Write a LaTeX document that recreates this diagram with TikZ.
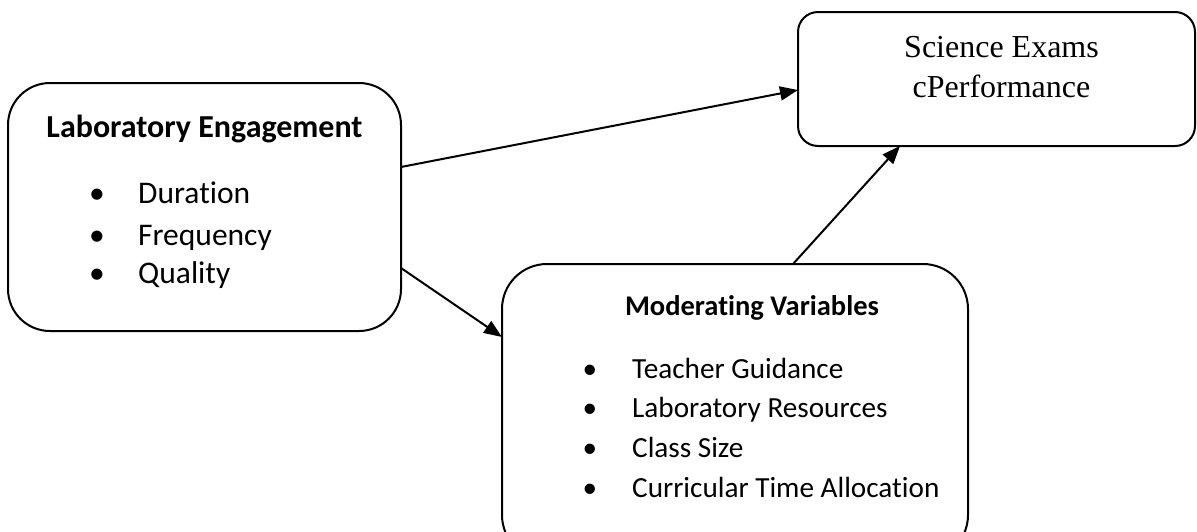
\documentclass[tikz,border=0pt]{standalone}
\usepackage{fontspec}
\setmainfont{Carlito}[Ligatures=NoCommon]
\newfontfamily\tnr{Liberation Serif}
\usetikzlibrary{arrows.meta}
\begin{document}
\begin{tikzpicture}[x=1pt,y=-1pt,
  box/.style={draw=black,line width=2pt,inner sep=0pt,outer sep=0pt},
  arr/.style={line width=2pt,-{Triangle[length=18pt,width=14pt]}},
  txtL/.style={anchor=base west,inner sep=0pt,font=\fontsize{31.5}{37}\selectfont},
  ttlL/.style={anchor=base,inner sep=0pt,font=\fontsize{32}{37}\selectfont\bfseries},
  bulL/.style={anchor=base,inner sep=0pt,font=\fontsize{31.5}{37}\selectfont},
  txtM/.style={anchor=base west,inner sep=0pt,font=\fontsize{29.2}{34}\selectfont},
  ttlM/.style={anchor=base,inner sep=0pt,font=\fontsize{28.5}{34}\selectfont\bfseries},
  bulM/.style={anchor=base,inner sep=0pt,font=\fontsize{29.2}{34}\selectfont},
  sci/.style={anchor=base,inner sep=0pt,font=\fontsize{32}{37}\selectfont\tnr}]
\useasboundingbox (0,0) rectangle (1197,531);
\clip (0,0) rectangle (1197,531);
% boxes
\node[box,rounded corners=42pt,minimum width=393pt,minimum height=248pt] (L) at (204.5,207) {};
\node[box,rounded corners=20pt,minimum width=397pt,minimum height=134pt] (S) at (996.5,79) {};
\node[box,rounded corners=45pt,minimum width=466pt,minimum height=296pt] (M) at (735,412) {};
% Laboratory Engagement
\node[ttlL] (lt) at (204.5,137) {Laboratory Engagement};
\node[bulL] (lb1) at (97,203) {•};
\node[txtL] (l1) at (138,203) {Duration};
\node[bulL] (lb2) at (97,245) {•};
\node[txtL] (l2) at (138,245) {Frequency};
\node[bulL] (lb3) at (97,283) {•};
\node[txtL] (l3) at (138,283) {Quality};
% Science
\node[sci] (s1) at (1001.5,57) {Science Exams};
\node[sci] (s2) at (1001.5,97) {cPerformance};
% Moderating
\node[ttlM] (mt) at (752,315) {Moderating Variables};
\node[bulM] (mb1) at (590,378) {•};
\node[txtM] (m1) at (632,378) {Teacher Guidance};
\node[bulM] (mb2) at (590,417) {•};
\node[txtM] (m2) at (632,417) {Laboratory Resources};
\node[bulM] (mb3) at (590,457) {•};
\node[txtM] (m3) at (632,457) {Class Size};
\node[bulM] (mb4) at (590,497) {•};
\node[txtM] (m4) at (632,497) {Curricular Time Allocation};
% arrows
\draw[arr] ([yshift=40pt]L.east) -- ([yshift=-11pt]S.west);
\draw[arr] ([yshift=-61pt]L.east) -- ([yshift=75pt]M.west);
\draw[arr] ([xshift=58pt]M.north) -- ([xshift=-96.5pt]S.south);
\end{tikzpicture}
\end{document}
